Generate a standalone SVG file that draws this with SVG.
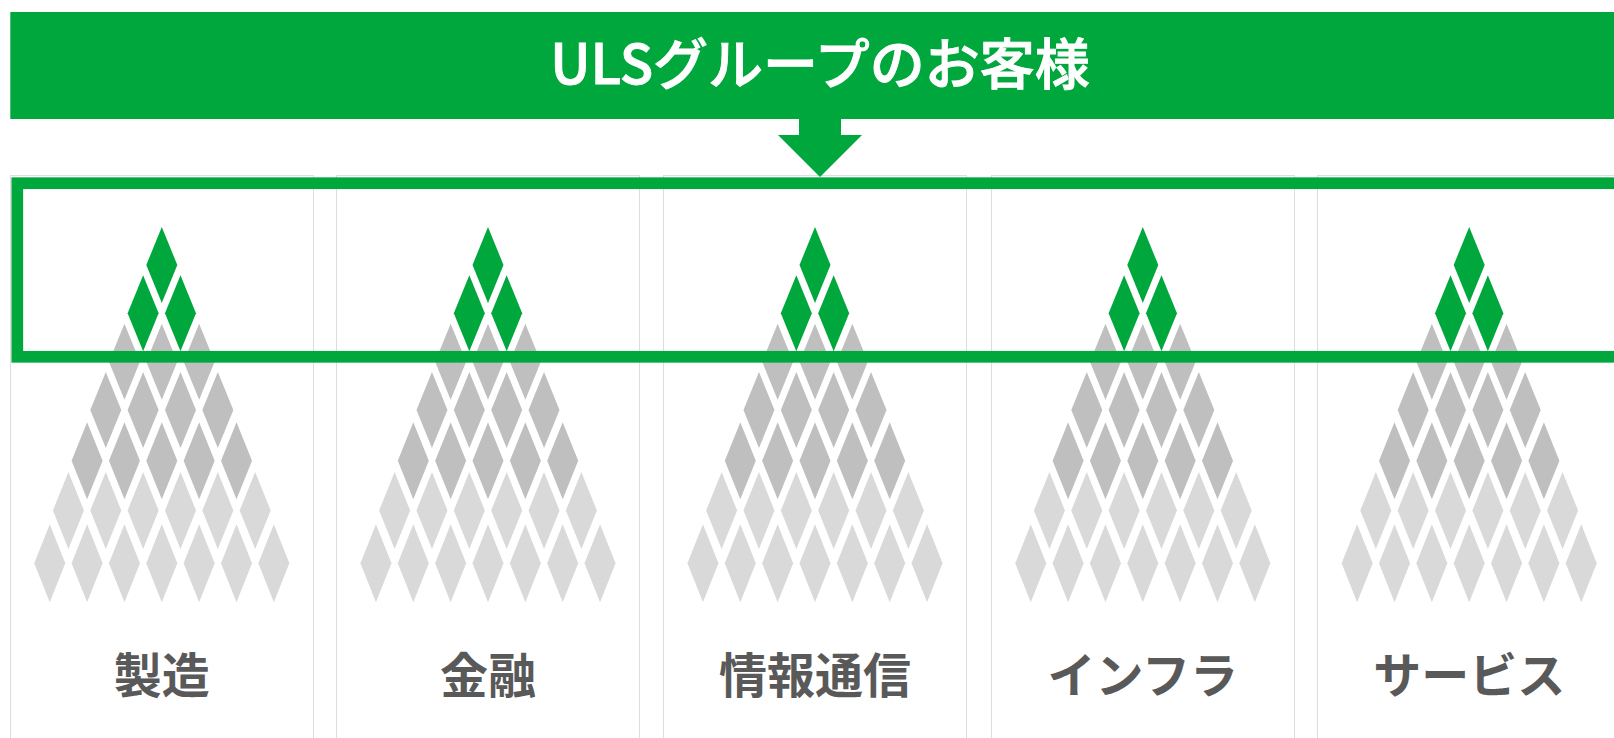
<svg xmlns="http://www.w3.org/2000/svg" xmlns:xlink="http://www.w3.org/1999/xlink" width="1614" height="738" viewBox="0 0 1614 738">
  <style>
    .green { fill: #00a73c; }
    .dark { fill: #bfbfbf; }
    .light { fill: #d9d9d9; }
    .panel { fill: #ffffff; stroke: #dddddd; stroke-width: 1; }
    .frame { fill: none; stroke: #00a73c; stroke-width: 11.7; }
    .title { font-family: "Noto Sans CJK JP", "Noto Sans", sans-serif; font-size: 55px; font-weight: 500; fill: #ffffff; stroke: #ffffff; stroke-width: 0.9px; }
    .label { font-family: "Noto Sans CJK JP", "Noto Sans", sans-serif; font-size: 48px; font-weight: 700; fill: #595959; }
  </style>
  <defs>
    <!-- one rhombus tile, centred on its own origin -->
    <path id="dia" d="M0 -38L15.5 0L0 38L-15.5 0Z"/>
    <path id="dia-b" d="M0 -38.5L15.5 0L0 38.5L-15.5 0Z"/>
    <path id="dia-c" d="M0 -39L15.5 0L0 39L-15.5 0Z"/>
    <!-- seven-row tile pyramid, centred on x = 0 -->
    <g id="pyramid">
      <use xlink:href="#dia" class="green" x="0" y="265"/>
      <use xlink:href="#dia" class="green" x="-18.68" y="313.3"/>
      <use xlink:href="#dia" class="green" x="18.68" y="313.3"/>
      <use xlink:href="#dia" class="dark" x="-37.35" y="361.7"/>
      <use xlink:href="#dia" class="dark" x="0" y="361.7"/>
      <use xlink:href="#dia" class="dark" x="37.35" y="361.7"/>
      <use xlink:href="#dia" class="dark" x="-56.03" y="410"/>
      <use xlink:href="#dia" class="dark" x="-18.68" y="410"/>
      <use xlink:href="#dia" class="dark" x="18.68" y="410"/>
      <use xlink:href="#dia" class="dark" x="56.03" y="410"/>
      <use xlink:href="#dia-b" class="dark" x="-74.7" y="460.7"/>
      <use xlink:href="#dia-b" class="dark" x="-37.35" y="460.7"/>
      <use xlink:href="#dia-b" class="dark" x="0" y="460.7"/>
      <use xlink:href="#dia-b" class="dark" x="37.35" y="460.7"/>
      <use xlink:href="#dia-b" class="dark" x="74.7" y="460.7"/>
      <use xlink:href="#dia-b" class="light" x="-93.38" y="510.5"/>
      <use xlink:href="#dia-b" class="light" x="-56.03" y="510.5"/>
      <use xlink:href="#dia-b" class="light" x="-18.68" y="510.5"/>
      <use xlink:href="#dia-b" class="light" x="18.68" y="510.5"/>
      <use xlink:href="#dia-b" class="light" x="56.03" y="510.5"/>
      <use xlink:href="#dia-b" class="light" x="93.38" y="510.5"/>
      <use xlink:href="#dia-c" class="light" x="-112.05" y="563.3"/>
      <use xlink:href="#dia-c" class="light" x="-74.7" y="563.3"/>
      <use xlink:href="#dia-c" class="light" x="-37.35" y="563.3"/>
      <use xlink:href="#dia-c" class="light" x="0" y="563.3"/>
      <use xlink:href="#dia-c" class="light" x="37.35" y="563.3"/>
      <use xlink:href="#dia-c" class="light" x="74.7" y="563.3"/>
      <use xlink:href="#dia-c" class="light" x="112.05" y="563.3"/>
    </g>
  </defs>

  <rect width="1614" height="738" fill="#ffffff"/>

  <!-- header banner -->
  <g id="banner">
    <rect class="green" x="10.3" y="12" width="1610" height="107"/>
    <text class="title" x="820" y="83.5" text-anchor="middle">ULSグループのお客様</text>
  </g>

  <!-- industry columns -->
  <g id="col-manufacturing">
    <rect class="panel" x="10.5" y="175.5" width="303" height="600"/>
    <use xlink:href="#pyramid" x="161.8"/>
    <text class="label" x="161.8" y="672" text-anchor="middle" dominant-baseline="central">製造</text>
  </g>
  <g id="col-finance">
    <rect class="panel" x="336.5" y="175.5" width="303" height="600"/>
    <use xlink:href="#pyramid" x="488"/>
    <text class="label" x="488" y="672" text-anchor="middle" dominant-baseline="central">金融</text>
  </g>
  <g id="col-telecom">
    <rect class="panel" x="663.5" y="175.5" width="303" height="600"/>
    <use xlink:href="#pyramid" x="815"/>
    <text class="label" x="815" y="672" text-anchor="middle" dominant-baseline="central">情報通信</text>
  </g>
  <g id="col-infra">
    <rect class="panel" x="991.5" y="175.5" width="303" height="600"/>
    <use xlink:href="#pyramid" x="1142.8"/>
    <text class="label" x="1142.8" y="672" text-anchor="middle" dominant-baseline="central">インフラ</text>
  </g>
  <g id="col-service">
    <rect class="panel" x="1317.5" y="175.5" width="303" height="600"/>
    <use xlink:href="#pyramid" x="1469.2"/>
    <text class="label" x="1469.2" y="672" text-anchor="middle" dominant-baseline="central">サービス</text>
  </g>

  <!-- highlight band across the top tiers -->
  <g id="highlight">
    <rect class="frame" x="17.3" y="183.2" width="1640" height="173.6"/>
  </g>

  <!-- block arrow from banner to highlight band -->
  <g id="connectors">
    <path class="green" d="M799 119H841V135H862L820 177L778 135H799Z"/>
  </g>
</svg>
